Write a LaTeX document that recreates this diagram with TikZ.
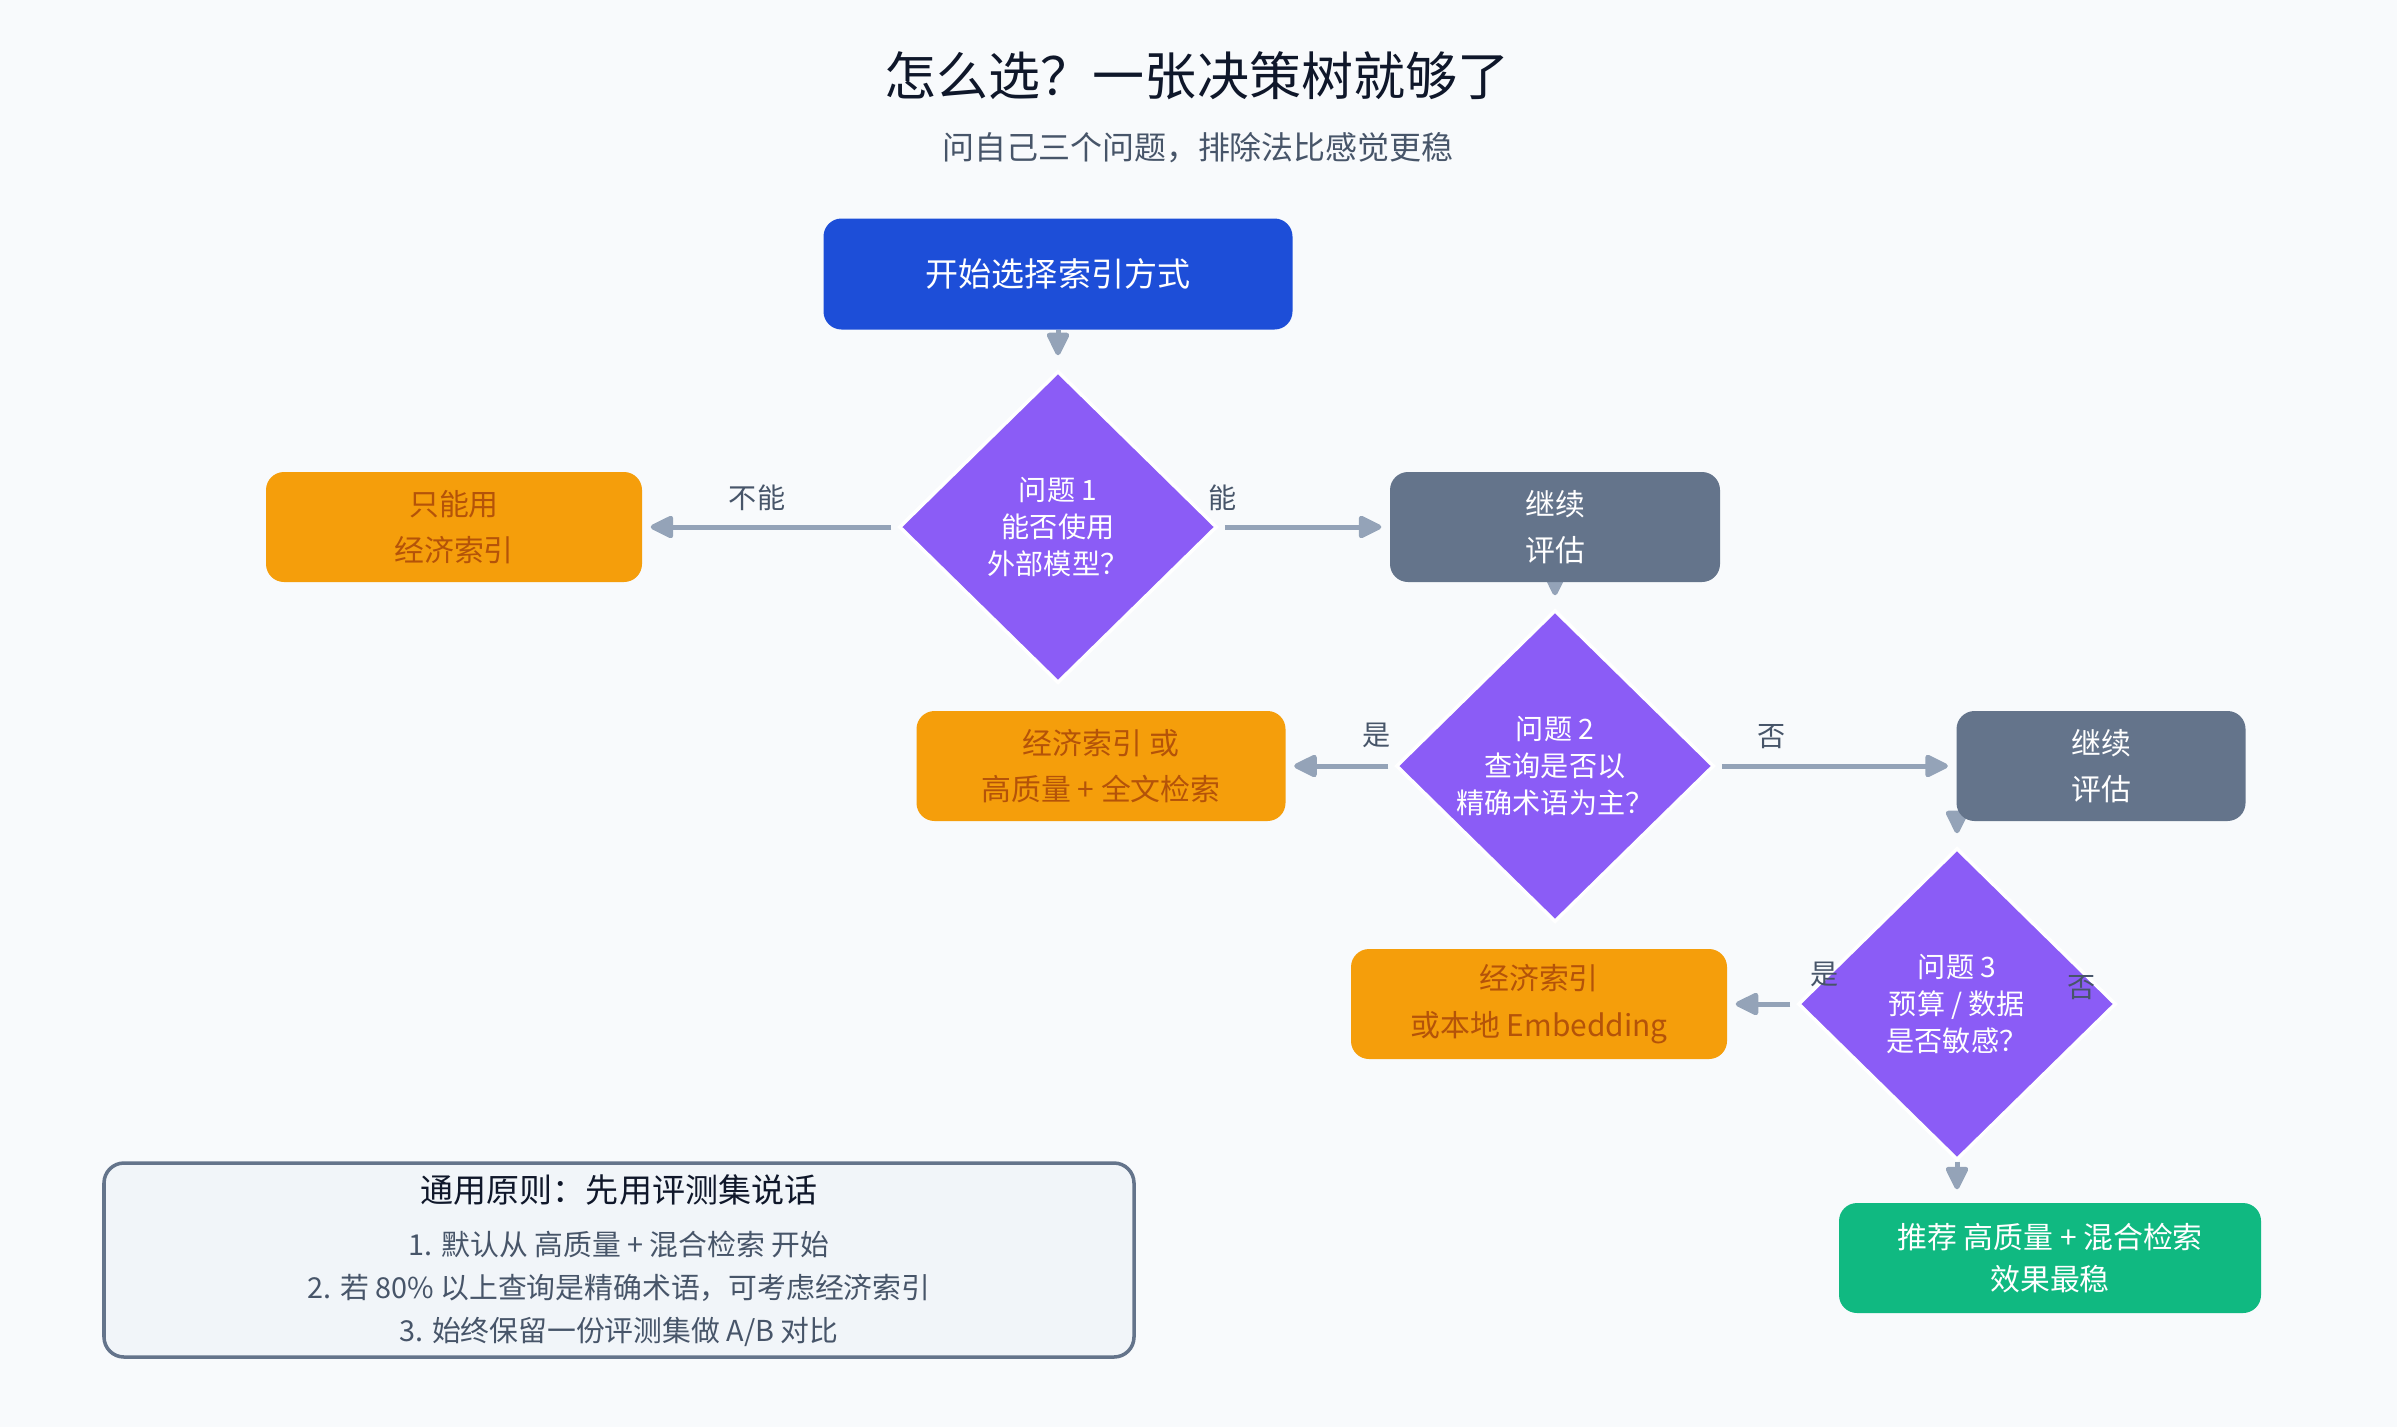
\documentclass[tikz,border=0pt]{standalone}
\usepackage{fontspec}
\setmainfont{Noto Sans CJK SC}
\usetikzlibrary{shapes.geometric, arrows.meta, backgrounds}

\definecolor{bgc}{HTML}{F8FAFC}
\definecolor{startc}{HTML}{1D4ED8}
\definecolor{askc}{HTML}{8B5CF6}
\definecolor{cheapc}{HTML}{F59E0B}
\definecolor{cheaptxt}{HTML}{B45309}
\definecolor{goonc}{HTML}{64748B}
\definecolor{bestc}{HTML}{10B981}
\definecolor{arrc}{HTML}{94A3B8}
\definecolor{inkc}{HTML}{0F172A}
\definecolor{labc}{HTML}{475569}
\definecolor{notec}{HTML}{F1F5F9}

\newcommand{\setsz}[2]{\fontsize{#1}{#2}\selectfont}

\begin{document}
\begin{tikzpicture}[x=0.1mm, y=-0.1mm,
    box/.style={rectangle, rounded corners=1.8mm, minimum height=11mm, inner sep=0pt, align=center, font={\setsz{8.5pt}{13.2pt}}},
    cheap/.style={box, fill=cheapc, text=cheaptxt},
    goon/.style={box, fill=goonc, text=white},
    ask/.style={diamond, fill=askc, draw=white, line width=1pt, minimum width=31.8mm, minimum height=31.2mm, inner sep=0pt, align=center, text=white, font={\setsz{8pt}{10.5pt}}},
    arr/.style={draw=arrc, line width=0.5mm, -{Triangle[length=2.6mm, width=2.4mm, round]}},
    lab/.style={text=labc, font={\setsz{8pt}{10pt}}}]
    \useasboundingbox (0,0) rectangle (2397,1427);

    \node[text=inkc, font={\setsz{14.8pt}{18pt}}] (title) at (1197,76) {怎么选？一张决策树就够了};
    \node[text=labc, font={\setsz{9.1pt}{11pt}}] (sub) at (1198,148) {问自己三个问题，排除法比感觉更稳};

    \node[box, fill=startc, text=white, minimum width=46.9mm, minimum height=11.1mm, font={\setsz{9.4pt}{12pt}}] (start) at (1058,274) {开始选择索引方式};

    \node[ask] (q1) at (1058,527) {问题 1\\能否使用\\外部模型？};
    \node[cheap, minimum width=37.6mm] (only) at (454,527) {只能用\\经济索引};
    \node[goon, minimum width=33mm] (go1) at (1555,527) {继续\\评估};

    \node[ask] (q2) at (1555,766) {问题 2\\查询是否以\\精确术语为主？};
    \node[cheap, minimum width=36.9mm] (mix) at (1101,766) {经济索引 或\\高质量 + 全文检索};
    \node[goon, minimum width=28.9mm] (go2) at (2101,766) {继续\\评估};

    \node[ask] (q3) at (1957,1004) {问题 3\\预算 / 数据\\是否敏感？};
    \node[cheap, minimum width=37.6mm] (local) at (1539,1004) {经济索引\\或本地 Embedding};
    \node[box, fill=bestc, text=white, minimum width=42.2mm, font={\setsz{8.5pt}{12.2pt}}] (best) at (2050,1258) {推荐 高质量 + 混合检索\\效果最稳};

    % arrows go under the boxes
    \begin{scope}[on background layer]
        \fill[bgc] (0,0) rectangle (2397,1427);
        \draw[arr, shorten >=1.4mm] (start.south) -- (q1.north);
        \draw[arr, shorten <=0.6mm, shorten >=0.8mm] (q1.west) -- (only.east);
        \draw[arr, shorten <=0.6mm, shorten >=0.8mm] (q1.east) -- (go1.west);
        \draw[arr, shorten >=1.3mm] (go1.south) -- (q2.north);
        \draw[arr, shorten <=0.6mm, shorten >=0.8mm] (q2.west) -- (mix.east);
        \draw[arr, shorten <=0.6mm, shorten >=0.8mm] (q2.east) -- (go2.west);
        \draw[arr, shorten >=1.3mm] (q3.north |- go2.south) -- (q3.north);
        \draw[arr, shorten <=0.6mm, shorten >=0.8mm] (q3.west) -- (local.east);
        \draw[arr, shorten >=1.3mm] (q3.south) -- (q3.south |- best.north);
    \end{scope}

    \node[lab] (no1) at (757,498) {不能};
    \node[lab] (yes1) at (1223,498) {能};
    \node[lab] (yes2) at (1377,735) {是};
    \node[lab] (no2) at (1772,737) {否};
    \node[lab] (yes3) at (1825,974) {是};
    \node[lab] (no3) at (2082,988) {否};

    \node[rectangle, rounded corners=2mm, draw=goonc, fill=notec, line width=1pt, minimum width=103mm, minimum height=19.4mm] (rule) at (619,1260) {};
    \node[text=inkc, font={\setsz{9.4pt}{12pt}}] (rulehead) at (619,1190) {通用原则：先用评测集说话};
    \node[text=labc, align=center, font={\setsz{8.2pt}{12.2pt}}] (rulebody) at (619,1289) {1. 默认从 高质量 + 混合检索 开始\\2. 若 80\% 以上查询是精确术语，可考虑经济索引\\3. 始终保留一份评测集做 A/B 对比};
\end{tikzpicture}
\end{document}
